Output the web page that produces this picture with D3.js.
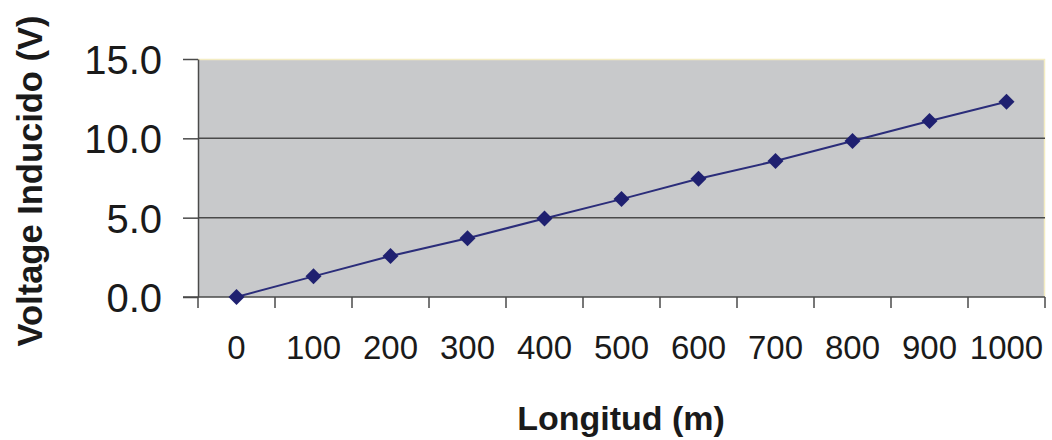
<!DOCTYPE html>
<html>
<head>
<meta charset="utf-8">
<script src="https://cdn.jsdelivr.net/npm/d3@7"></script>
<style>
  html, body { margin: 0; padding: 0; background: #fff; }
  svg { display: block; font-family: "Liberation Sans", Arial, sans-serif; }
</style>
</head>
<body>
<div id="chart"></div>
<script>
// data
const longitud = ["0", "100", "200", "300", "400", "500", "600", "700", "800", "900", "1000"];
const voltage  = [0.0, 1.30, 2.58, 3.70, 4.95, 6.17, 7.45, 8.57, 9.83, 11.09, 12.31];
const yTicks   = [0, 5, 10, 15];

const width = 1052, height = 440;
const m = { top: 59, right: 7, bottom: 143, left: 198 };

const svg = d3.select("#chart").append("svg")
  .attr("width", width)
  .attr("height", height);

const x = d3.scaleBand()
  .domain(longitud)
  .range([m.left, width - m.right])
  .padding(0);

const y = d3.scaleLinear()
  .domain([0, 15])
  .range([height - m.bottom, m.top]);

const x0 = m.left, x1 = width - m.right;
const yBot = y(0), yTop = y(15);

// plot area
svg.append("rect")
  .attr("x", x0).attr("y", yTop)
  .attr("width", x1 - x0).attr("height", yBot - yTop)
  .attr("fill", "#c8c9cb");

// thin pale border top/right
svg.append("path")
  .attr("d", `M${x0},${yTop + 0.5}H${x1 - 0.5}V${yBot}`)
  .attr("fill", "none")
  .attr("stroke", "#f3ecc2")
  .attr("stroke-width", 1.5);

// gridlines
svg.append("g")
  .selectAll("line")
  .data(yTicks.filter(d => d > 0 && d < 15))
  .join("line")
  .attr("x1", x0).attr("x2", x1)
  .attr("y1", d => y(d)).attr("y2", d => y(d))
  .attr("stroke", "#4a4a4a")
  .attr("stroke-width", 1.5);

// y axis
const yAxis = svg.append("g")
  .attr("transform", `translate(${x0},0)`)
  .call(d3.axisLeft(y).tickValues(yTicks).tickFormat(d3.format(".1f"))
    .tickSize(15).tickSizeOuter(0).tickPadding(21));
yAxis.select(".domain").attr("stroke", "#4a4a4a").attr("stroke-width", 1.5);
yAxis.selectAll(".tick line").attr("stroke", "#4a4a4a").attr("stroke-width", 1.5);
yAxis.selectAll(".tick text")
  .attr("font-size", 40)
  .attr("fill", "#1a1a1a")
  .attr("dy", "0.36em");

// x axis: labels at band centres, ticks at band edges
const xAxis = svg.append("g")
  .attr("transform", `translate(0,${yBot})`)
  .call(d3.axisBottom(x).tickSize(0));
xAxis.select(".domain").remove();
xAxis.selectAll(".tick text")
  .attr("font-size", 33)
  .attr("fill", "#1a1a1a")
  .attr("y", 62)
  .attr("dy", 0);

svg.append("line")
  .attr("x1", x0 - 15).attr("x2", x1)
  .attr("y1", yBot).attr("y2", yBot)
  .attr("stroke", "#4a4a4a")
  .attr("stroke-width", 1.5);

const edges = longitud.map(d => x(d)).concat([x1]);
svg.append("g")
  .selectAll("line")
  .data(edges)
  .join("line")
  .attr("x1", d => d).attr("x2", d => d)
  .attr("y1", yBot).attr("y2", yBot + 11)
  .attr("stroke", "#4a4a4a")
  .attr("stroke-width", 1.5);

// series
const cx = d => x(d) + x.bandwidth() / 2;
const line = d3.line()
  .x((d, i) => cx(longitud[i]))
  .y(d => y(d));

svg.append("path")
  .datum(voltage)
  .attr("fill", "none")
  .attr("stroke", "#2b2d7a")
  .attr("stroke-width", 2)
  .attr("d", line);

svg.append("g")
  .selectAll("path")
  .data(voltage)
  .join("path")
  .attr("transform", (d, i) => `translate(${cx(longitud[i])},${y(d)})`)
  .attr("d", "M0,-8L8,0L0,8L-8,0Z")
  .attr("fill", "#1f2070");

// axis titles
svg.append("text")
  .attr("x", 621).attr("y", 430)
  .attr("text-anchor", "middle")
  .attr("font-size", 34)
  .attr("font-weight", 700)
  .attr("fill", "#1a1a1a")
  .text("Longitud (m)");

svg.append("text")
  .attr("transform", `translate(42,181) rotate(-90)`)
  .attr("text-anchor", "middle")
  .attr("font-size", 34.5)
  .attr("font-weight", 700)
  .attr("fill", "#1a1a1a")
  .text("Voltage Inducido (V)");
</script>
</body>
</html>
